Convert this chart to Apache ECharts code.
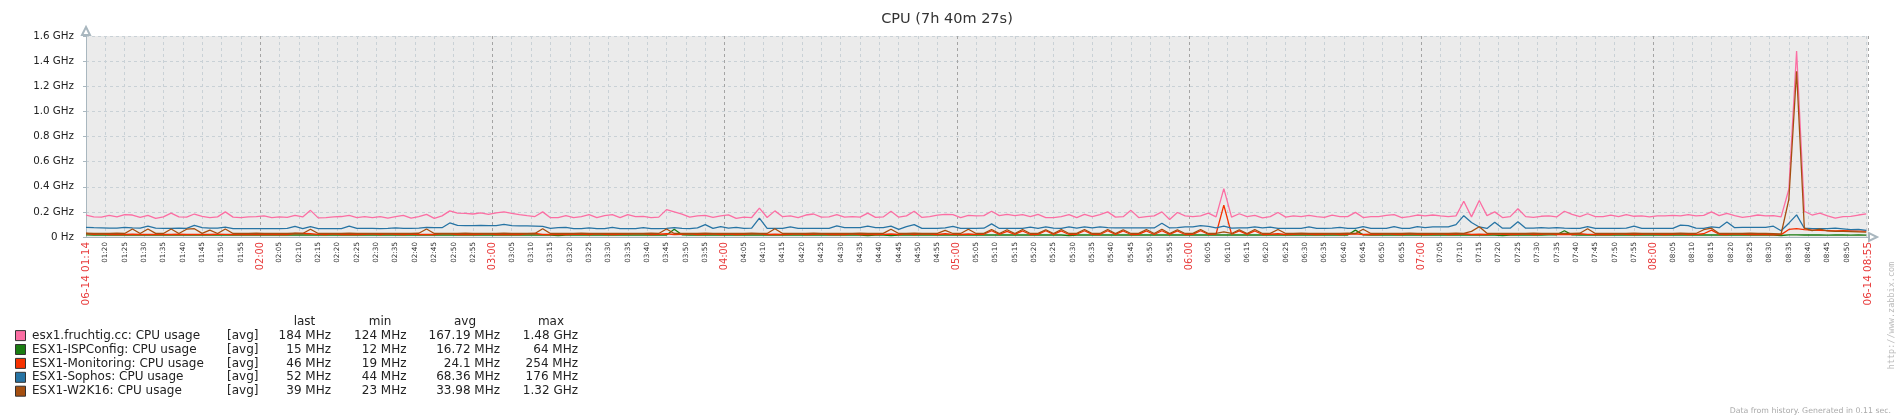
<!DOCTYPE html>
<html><head><meta charset="utf-8">
<script src="https://cdn.jsdelivr.net/npm/echarts@6/dist/echarts.min.js"></script>
<style>html,body{margin:0;padding:0;background:#fff}#c{width:1898px;height:418px}</style>
</head><body><div id="c"></div>
<script>
// ---------- data ----------
const titleText = 'CPU (7h 40m 27s)';
const sampleStartMin = 75;      // first sample 01:15 (minutes since midnight)
const sampleStepMin = 2;        // samples every 2 minutes
const axisStartMin = 75;        // 01:14:58 ~ 01:15
const axisEndMin = 535.45;      // 08:55:25
const startLabel = '06-14 01:14';
const endLabel = '06-14 08:55';
const yTickLabels = ['0 Hz','0.2 GHz','0.4 GHz','0.6 GHz','0.8 GHz','1.0 GHz','1.2 GHz','1.4 GHz','1.6 GHz'];

const seriesNames = ['esx1.fruchtig.cc: CPU usage','ESX1-ISPConfig: CPU usage','ESX1-Monitoring: CPU usage','ESX1-Sophos: CPU usage','ESX1-W2K16: CPU usage'];
const seriesColors = ['#FC6EA3','#1A7C11','#F63100','#2774A4','#A54F10'];
const legendFunc = ['[avg]','[avg]','[avg]','[avg]','[avg]'];
const legendHeaders = ['last','min','avg','max'];
const lastVals = ['184 MHz','15 MHz','46 MHz','52 MHz','39 MHz'];
const minVals = ['124 MHz','12 MHz','19 MHz','44 MHz','23 MHz'];
const avgVals = ['167.19 MHz','16.72 MHz','24.1 MHz','68.36 MHz','33.98 MHz'];
const maxVals = ['1.48 GHz','64 MHz','254 MHz','176 MHz','1.32 GHz'];

// values in MHz
const esx1Vals = [
175,160,158,172,160,178,175,156,172,148,160,190,160,158,183,165,155,160,200,158,
154,160,162,168,155,160,156,172,160,212,152,155,160,163,172,155,163,154,162,
150,162,172,150,162,180,148,168,208,190,188,183,192,180,192,200,188,178,170,163,
200,154,154,170,154,162,178,154,170,178,154,178,162,164,154,158,218,200,
182,158,168,172,156,168,176,148,158,155,230,155,208,162,168,155,175,183,158,160,
178,158,162,158,190,156,160,205,158,168,205,156,162,174,180,178,155,172,
168,170,205,170,180,170,178,162,180,155,155,162,178,155,180,162,178,200,158,162,
212,155,162,168,200,140,195,168,162,168,190,160,385,158,185,162,172,152,
162,195,158,168,162,172,162,156,175,162,162,196,155,162,162,172,178,155,162,175,
168,175,168,162,168,285,160,290,170,200,155,162,225,162,156,165,168,160,205,
180,162,185,162,162,175,162,178,165,168,160,168,168,172,168,178,168,172,200,170,
188,170,156,165,175,168,170,160,380,1480,205,175,190,168,150,162,164,175,184];

const ispconfigVals = [
17,16,16,17,16,16,17,16,16,16, 17,16,16,16,17,16,16,17,16,16,
16,17,16,16,16,17,16,16,17,16, 16,16,17,16,16,17,16,16,16,17,
16,16,17,16,16,16,17,16,16,17, 16,16,16,17,16,16,17,16,16,16,
16,12,16,17,16,16,16,17,16,16, 17,16,16,16,17,16,62,18,16,16,
17,16,16,16,17,16,16,16,17,16, 16,17,16,16,16,17,16,16,17,16,
16,12,16,16,12,16,17,16,16,16, 17,16,16,16,17,16,16,17,16,16,
16,17,16,16,16,17,16,12,16,17, 16,16,16,17,16,16,17,16,16,16,
17,16,16,16,17,16,16,16,17,16, 16,17,16,16,16,17,16,16,17,16,
16,16,17,16,55,17,16,16,16,17, 16,16,17,16,16,16,17,16,16,16,
17,16,16,12,16,17,16,16,16,17, 18,50,17,16,16,17,16,16,16,17,
16,16,17,16,16,16,17,16,16,17, 16,16,17,16,16,16,17,16,16,12,
17,17,16,16,16,15,16,16,15,16,15];

const monitoringVals = [
28,22,26,20,21,20,22,20,21,20, 21,20,22,20,21,20,20,22,21,20,
20,21,20,22,20,21,20,28,28,26, 21,20,26,20,21,20,22,26,20,26,
22,20,24,20,21,20,26,26,20,21, 20,22,26,20,21,20,20,26,28,20,
21,20,20,22,24,20,26,22,20,21, 24,26,26,20,22,26,20,21,26,20,
21,26,20,24,20,21,26,26,20,22, 20,21,26,20,22,26,20,21,20,26,
20,22,20,21,24,20,26,20,26,24, 20,26,21,20,24,21,22,50,21,45,
21,48,20,21,50,21,48,20,22,50, 21,20,50,21,48,20,21,48,20,50,
21,48,20,21,50,22,24,254,22,48, 21,48,20,22,26,20,22,26,21,20,
22,26,20,21,26,20,22,20,26,21, 20,26,21,20,22,26,20,21,26,20,
22,20,26,21,20,22,26,20,21,26, 20,22,20,26,21,20,22,20,26,21,
20,22,26,21,20,22,26,20,21,26, 55,22,20,26,21,20,22,20,18,19,
60,66,58,55,52,50,48,50,48,46,46];

const sophosVals = [
77,74,72,70,70,76,72,70,86,70,68,68,70,68,92,74,70,70,78,66,
66,66,66,66,66,66,68,84,66,82,66,66,66,66,86,68,68,68,67,
68,72,68,68,70,76,74,74,112,92,90,90,92,90,90,100,90,88,88,86,
84,68,74,76,66,66,72,66,66,76,66,66,66,74,66,66,68,74,
68,66,72,98,68,82,70,76,68,70,150,68,68,68,80,68,68,68,68,68,
88,74,74,74,86,74,74,86,60,82,98,68,68,68,72,84,68,68,
68,70,104,68,68,68,68,78,68,80,70,68,80,70,80,72,80,74,72,72,
72,72,72,72,110,72,74,80,80,90,84,72,86,70,72,72,80,72,
78,68,68,68,68,80,68,68,70,76,68,68,82,68,68,68,82,68,68,82,
74,80,80,80,98,170,115,80,68,118,70,70,122,70,70,74,70,74,70,
68,68,82,68,68,68,68,70,86,68,68,68,68,68,94,90,70,68,80,74,
120,74,76,76,76,76,86,50,110,176,70,66,66,66,70,64,58,60,52];

const w2k16Vals = [
30,28,29,28,30,28,64,28,64,29, 28,64,28,62,66,29,55,28,64,28,
29,28,30,28,28,29,28,30,28,62, 28,29,28,28,30,28,28,29,28,28,
29,28,28,30,64,28,29,28,28,30, 28,28,29,28,30,28,28,29,28,66,
28,29,28,28,30,28,28,29,28,28, 29,28,28,30,28,64,28,29,28,28,
30,28,28,29,28,28,30,28,28,66, 28,29,28,28,30,28,28,29,28,28,
30,28,28,29,62,28,28,30,28,28, 29,52,28,28,62,28,29,60,28,58,
28,60,28,29,58,28,60,28,29,60, 28,28,60,28,58,28,29,60,28,62,
28,58,28,29,60,28,28,40,28,58, 28,60,28,29,60,28,28,30,28,28,
29,28,28,30,28,62,28,28,29,28, 28,30,28,28,29,28,28,30,28,45,
82,30,28,28,29,28,28,30,28,28, 29,28,28,30,66,28,28,29,28,28,
30,28,28,29,28,28,30,28,28,58, 70,28,29,28,28,30,28,28,26,24,
300,1320,70,50,62,48,45,44,42,40,39];

const allVals = [esx1Vals, ispconfigVals, monitoringVals, sophosVals, w2k16Vals];

// ---------- chart ----------
const FONT = 'DejaVu Sans';
const RED = '#e83a3a';
const AXIS = '#a9b7bf';
const chart = echarts.init(document.getElementById('c'), null, {renderer: 'canvas'});

function pad(n){ return (n < 10 ? '0' : '') + n; }
function fmtTime(v){ const h = Math.floor(v/60), m = Math.round(v - h*60); return pad(h)+':'+pad(m); }

const xSplitColors = [];
for (let k = 0; k < 12; k++) xSplitColors.push(k === 9 ? '#a4a4a4' : '#c9d1d6');

const series = allVals.map((vals, s) => ({
  type: 'line',
  name: seriesNames[s],
  data: vals.map((v, i) => [sampleStartMin + i * sampleStepMin, v]),
  showSymbol: false,
  symbol: 'none',
  lineStyle: {color: seriesColors[s], width: 1.3},
  itemStyle: {color: seriesColors[s]},
  emphasis: {disabled: true},
  z: 2 + s
}));

// legend table via graphic
const LFONT = '12px "DejaVu Sans"';
const graphic = [];
graphic.push({type:'text', x:947, y:19.5, style:{text:titleText, font:'14.5px "DejaVu Sans"', fill:'#333', textAlign:'center', textVerticalAlign:'middle'}});
const hdrX = [304.5, 380, 465, 551];
legendHeaders.forEach((h, k) => graphic.push({type:'text', x:hdrX[k], y:321.5, style:{text:h, font:LFONT, fill:'#222', textAlign:'center', textVerticalAlign:'middle'}}));
const colRight = [331, 406.5, 500, 578];
seriesNames.forEach((nm, r) => {
  const cy = 335.6 + r * 13.9;
  graphic.push({type:'rect', shape:{x:15.5, y:cy-5, width:10, height:10}, style:{fill:seriesColors[r], stroke:'#333', lineWidth:1}});
  graphic.push({type:'text', x:32, y:cy, style:{text:nm, font:LFONT, fill:'#222', textAlign:'left', textVerticalAlign:'middle'}});
  graphic.push({type:'text', x:227, y:cy, style:{text:legendFunc[r], font:LFONT, fill:'#222', textAlign:'left', textVerticalAlign:'middle'}});
  [lastVals, minVals, avgVals, maxVals].forEach((arr, k) => {
    graphic.push({type:'text', x:colRight[k], y:cy, style:{text:arr[r], font:LFONT, fill:'#222', textAlign:'right', textVerticalAlign:'middle'}});
  });
});
graphic.push({type:'text', x:1892, y:315.5, rotation:Math.PI/2, style:{text:'http://www.zabbix.com', font:'8.5px "DejaVu Sans Mono"', fill:'#bbb', textAlign:'center', textVerticalAlign:'middle'}});
graphic.push({type:'text', x:1891, y:410.7, style:{text:'Data from history. Generated in 0.11 sec.', font:'7.8px "DejaVu Sans"', fill:'#aaa', textAlign:'right', textVerticalAlign:'middle'}});

chart.setOption({
  animation: false,
  backgroundColor: '#fff',
  grid: {left: 86, right: 30, top: 36, bottom: 181, show: true, backgroundColor: '#ebebeb', borderWidth: 0},
  xAxis: {
    type: 'value', min: axisStartMin, max: axisEndMin, interval: 5,
    axisLine: {show: true, lineStyle: {color: AXIS, width: 1}, symbol: ['none', 'emptyTriangle'], symbolSize: [8, 8], symbolOffset: [0, 5]},
    axisTick: {show: false},
    splitLine: {show: true, lineStyle: {color: xSplitColors, type: [3, 3], width: 1}},
    axisLabel: {
      show: true, rotate: 90, margin: 5, showMinLabel: true, showMaxLabel: true, hideOverlap: false,
      fontFamily: FONT,
      formatter: function (v) {
        if (Math.abs(v - axisStartMin) < 1e-6) return '{e|' + startLabel + '}';
        if (Math.abs(v - axisEndMin) < 1e-6) return '{e|' + endLabel + '}';
        if (v > axisEndMin - 1) return '';
        const t = fmtTime(v);
        if (Math.round(v) % 60 === 0) return '{h|' + t + '}';
        return '{m|' + t + '}';
      },
      rich: {
        m: {fontSize: 7.2, color: '#333', fontFamily: FONT},
        h: {fontSize: 9.8, color: RED, fontFamily: FONT},
        e: {fontSize: 10.4, color: RED, fontFamily: FONT}
      }
    }
  },
  yAxis: {
    type: 'value', min: 0, max: 1600, interval: 200,
    axisLine: {show: true, lineStyle: {color: AXIS, width: 1}, symbol: ['none', 'emptyTriangle'], symbolSize: [8, 8], symbolOffset: [0, 5]},
    axisTick: {show: true, length: 3, lineStyle: {color: AXIS}},
    splitLine: {show: true, showMinLine: false, lineStyle: {color: '#c9d1d6', type: [3, 3], width: 1}},
    axisLabel: {
      margin: 12, fontFamily: FONT, fontSize: 10.3, color: '#222',
      formatter: function (v) { return yTickLabels[Math.round(v / 200)]; }
    }
  },
  series: series,
  graphic: graphic
});
</script>
</body></html>
